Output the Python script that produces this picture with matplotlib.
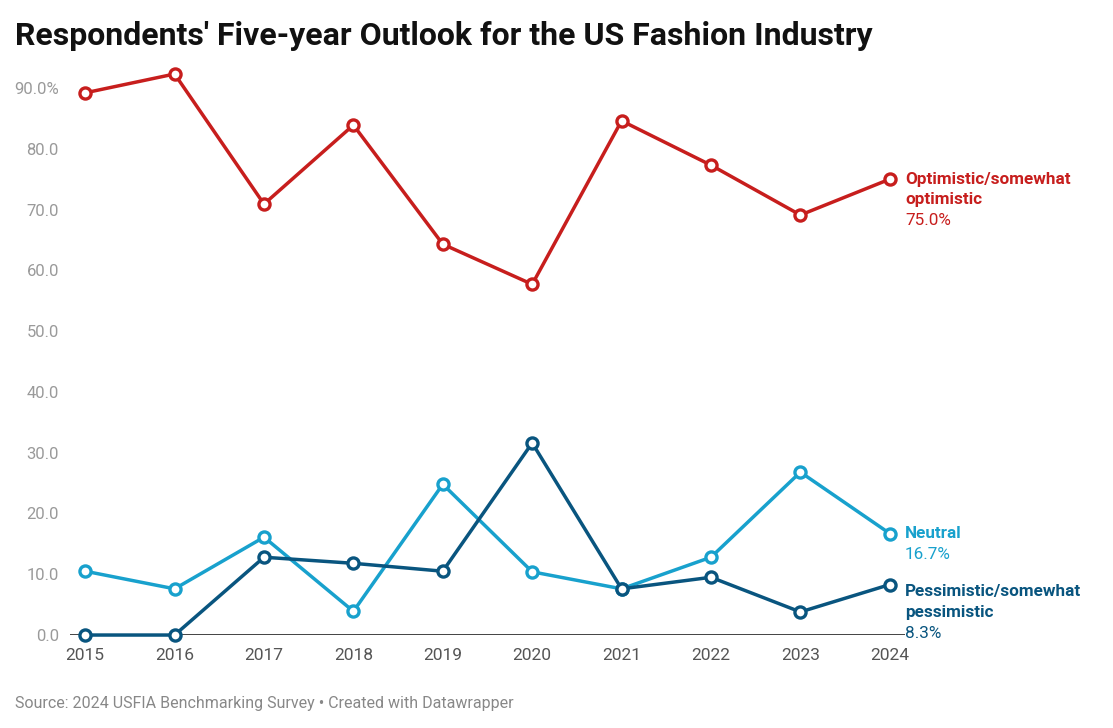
import matplotlib
matplotlib.use("Agg")
import matplotlib.pyplot as plt

plt.rcParams['font.family'] = ['Roboto', 'DejaVu Sans']

years = [2015, 2016, 2017, 2018, 2019, 2020, 2021, 2022, 2023, 2024]
optimistic = [89.2, 92.3, 70.9, 83.9, 64.3, 57.7, 84.6, 77.3, 69.1, 75.0]
neutral = [10.5, 7.6, 16.1, 3.9, 24.8, 10.4, 7.6, 12.8, 26.8, 16.7]
pessimistic = [0.0, 0.0, 12.8, 11.8, 10.5, 31.6, 7.6, 9.5, 3.8, 8.3]
ytick_vals = [0, 10, 20, 30, 40, 50, 60, 70, 80, 90]
ytick_labels = ["0.0", "10.0", "20.0", "30.0", "40.0", "50.0", "60.0", "70.0", "80.0", "90.0%"]

series = [
    ("Optimistic/somewhat\noptimistic", optimistic, "#c71e1d", 0),
    ("Neutral", neutral, "#18a1cd", 0),
    ("Pessimistic/somewhat\npessimistic", pessimistic, "#09557f", -5),
]

fig = plt.figure(figsize=(11.13, 7.28), dpi=100)
ax = fig.add_axes([0.0629, 0.1277, 0.7502, 0.7932])

for name, vals, color, dy in series:
    ax.plot(years, vals, color=color, lw=2.5, marker='o', markersize=8,
            markerfacecolor='white', markeredgecolor=color, markeredgewidth=2.4,
            zorder=3, clip_on=False)
    lines = name.split("\n")
    y0 = vals[-1]
    for i, ln in enumerate(lines):
        ax.annotate(ln, xy=(years[-1], y0), xytext=(11, dy - i * 15),
                    textcoords='offset points', ha='left', va='center',
                    fontsize=12.3, fontweight='bold', color=color, annotation_clip=False)
    ax.annotate(f"{y0:.1f}%", xy=(years[-1], y0), xytext=(11, dy - len(lines) * 15),
                textcoords='offset points', ha='left', va='center',
                fontsize=12.3, color=color, annotation_clip=False)

ax.axhline(0, color='#111111', lw=1.1, zorder=2)
ax.set_xlim(2014.83, 2024.17)
ax.set_ylim(0, 95)
ax.set_yticks(ytick_vals)
ax.set_yticklabels(ytick_labels)
ax.set_xticks(years)
ax.set_xticklabels([str(y) for y in years])
ax.tick_params(axis='y', length=0, labelsize=12, labelcolor='#9a9a9a', pad=8)
ax.tick_params(axis='x', length=0, labelsize=12.5, labelcolor='#555555', pad=9)
for s in ax.spines.values():
    s.set_visible(False)

fig.text(0.0135, 0.950, "Respondents' Five-year Outlook for the US Fashion Industry",
         fontsize=23, fontweight='bold', color='#111111', ha='left', va='center')
fig.text(0.0135, 0.033, "Source: 2024 USFIA Benchmarking Survey \u2022 Created with Datawrapper",
         fontsize=11.5, color='#888888', ha='left', va='center')

fig.savefig("out.png", dpi=100)
